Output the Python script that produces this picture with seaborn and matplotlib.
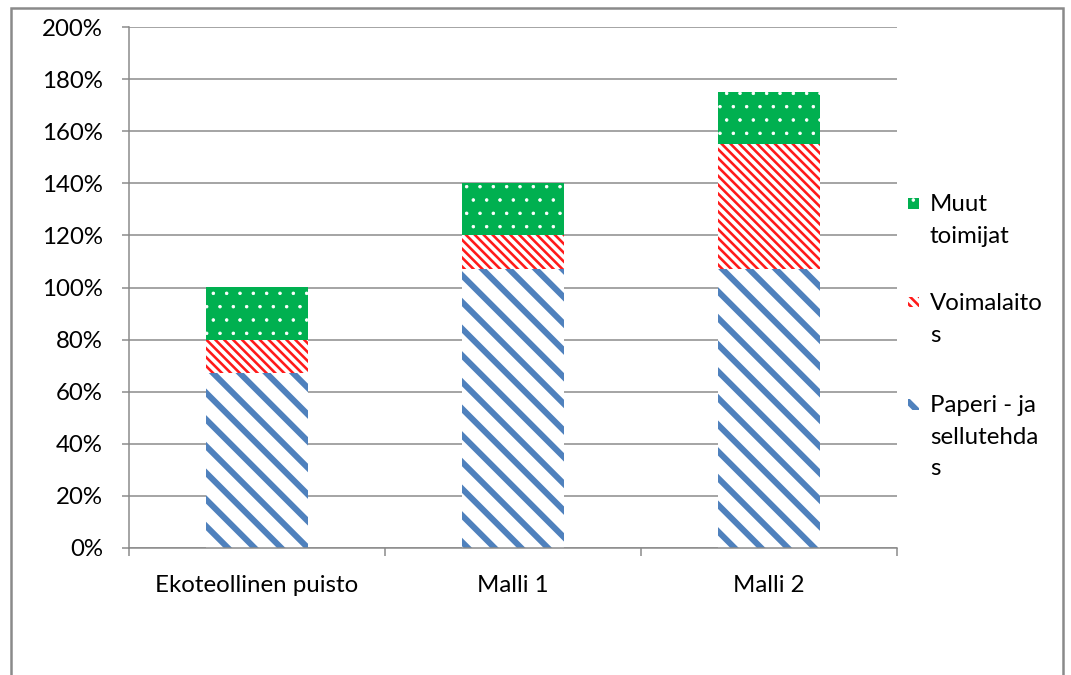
import numpy as np
import pandas as pd
import matplotlib
matplotlib.use("Agg")
import matplotlib.pyplot as plt
from matplotlib.patches import Rectangle
from matplotlib.ticker import FixedLocator, FuncFormatter
import seaborn as sns

# Stacked shares (%) per model
categories = ["Ekoteollinen puisto", "Malli 1", "Malli 2"]
paperi = [67, 107, 107]
voimala = [13, 13, 48]
muut = [20, 20, 20]
series_labels = ["Paperi - ja\nsellutehda\ns", "Voimalaito\ns", "Muut\ntoimijat"]
y_ticks = list(range(0, 201, 20))

sns.set_style("white")
plt.rcParams["font.family"] = ["Lato", "DejaVu Sans"]

DPI = 160
W, H = 1071, 675
FS = 24 * 72 / DPI          # font size in points (~24 px)
GRAY = "#898989"
BLUE = "#4F81BD"
RED = "#FF1A1A"
GREEN = "#00B050"

def px(v):
    return v * 72 / DPI

fig = plt.figure(figsize=(W / DPI, H / DPI), dpi=DPI)
fig.patch.set_facecolor("white")
ax = fig.add_axes([129 / W, 1 - 548 / H, (897 - 129) / W, (548 - 27) / H])

df = pd.DataFrame({"cat": categories, "paperi": paperi, "voimala": voimala, "muut": muut})
bottom2 = df["paperi"].to_numpy()
bottom3 = (df["paperi"] + df["voimala"]).to_numpy()

layers = [
    # column, bottom, face, hatch colour, hatch, hatch linewidth (pt)
    ("paperi", None, "white", BLUE, "\\\\", px(6.0)),
    ("voimala", bottom2, "white", RED, "\\\\\\\\\\\\", px(2.6)),
    ("muut", bottom3, GREEN, "white", "..", px(0.8)),
]

for col, bot, face, hcol, hatch, hlw in layers:
    with plt.rc_context({"hatch.linewidth": hlw}):
        kw = {} if bot is None else {"bottom": bot}
        sns.barplot(data=df, x="cat", y=col, ax=ax, width=0.4, color=face,
                    saturation=1, **kw)
        for bar in ax.containers[-1]:
            bar.set_facecolor(face)
            bar.set_edgecolor(hcol)
            bar.set_linewidth(0)
            bar.set_hatch(hatch)
            if hasattr(bar, "set_hatch_linewidth"):
                bar.set_hatch_linewidth(hlw)

ax.set_xlim(-0.5, len(categories) - 0.5)
ax.set_ylim(0, 200)
ax.set_xlabel("")
ax.set_ylabel("")

ax.yaxis.set_major_locator(FixedLocator(y_ticks))
ax.yaxis.set_major_formatter(FuncFormatter(lambda v, p: f"{int(v)}%"))
ax.grid(axis="y", color=GRAY, linewidth=px(1.5))
ax.set_axisbelow(True)

ax.xaxis.set_minor_locator(FixedLocator(np.arange(-0.5, len(categories), 1.0)))
ax.tick_params(axis="x", which="major", length=0, pad=px(27), labelsize=FS,
               labelcolor="black")
ax.tick_params(axis="x", which="minor", length=px(8), width=px(1.5),
               color=GRAY, direction="out", bottom=True)
ax.tick_params(axis="y", which="major", length=px(7), width=px(1.5),
               color=GRAY, direction="out", left=True, pad=px(19),
               labelsize=FS, labelcolor="black")

for side in ("top", "right"):
    ax.spines[side].set_visible(False)
for side in ("left", "bottom"):
    ax.spines[side].set_color(GRAY)
    ax.spines[side].set_linewidth(px(1.5))

# Legend, top entry first
legend_items = [
    (series_labels[2], GREEN, "white", "..", px(0.8), 203),
    (series_labels[1], "white", RED, "\\\\\\\\\\\\", px(2.6), 302),
    (series_labels[0], "white", BLUE, "\\\\", px(6.0), 404),
]
box = 11
for label, face, hcol, hatch, hlw, yc in legend_items:
    with plt.rc_context({"hatch.linewidth": hlw}):
        r = Rectangle((908 / W, 1 - (yc + box / 2) / H), box / W, box / H,
                      transform=fig.transFigure, facecolor=face, edgecolor=hcol,
                      linewidth=0, hatch=hatch)
        if hasattr(r, "set_hatch_linewidth"):
            r.set_hatch_linewidth(hlw)
        fig.patches.append(r)
    fig.text(930 / W, 1 - (yc - 9) / H, label, fontsize=FS, ha="left",
             va="top", linespacing=1.62, color="black")

# Chart border
fig.patches.append(Rectangle((11 / W, -0.05), (1063 - 11) / W, 1.05 - 8 / H,
                             transform=fig.transFigure, fill=False,
                             edgecolor="#8a8a8a", linewidth=px(2.5)))

fig.savefig("out.png", dpi=DPI)
